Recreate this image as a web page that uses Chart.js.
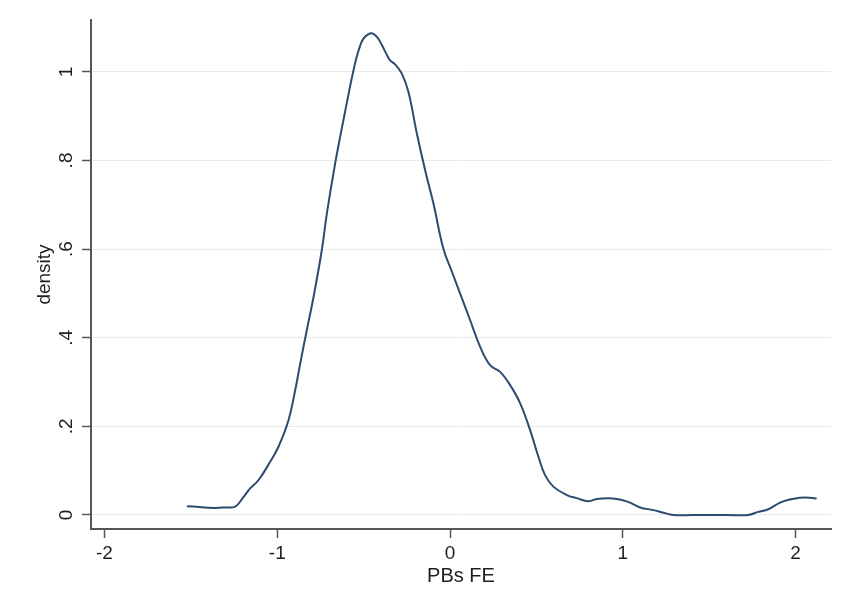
<!DOCTYPE html>
<html>
<head>
<meta charset="utf-8">
<script src="https://cdn.jsdelivr.net/npm/chart.js@4"></script>
<style>
  html, body { margin: 0; padding: 0; background: #ffffff; }
  #wrap { position: relative; width: 843px; height: 607px; }
</style>
</head>
<body>
<div id="wrap"><canvas id="c" width="843" height="607"></canvas></div>
<script>
// Kernel density of PBs FE
const xValues = [-1.523, -1.450, -1.369, -1.300, -1.243, -1.200, -1.157, -1.108, -1.041, -0.993,
  -0.935, -0.896, -0.867, -0.829, -0.790, -0.742, -0.713, -0.665, -0.617, -0.578,
  -0.559, -0.540, -0.520, -0.501, -0.472, -0.452, -0.423, -0.394, -0.365, -0.347,
  -0.318, -0.279, -0.241, -0.192, -0.144, -0.096, -0.038, 0.010, 0.058, 0.116,
  0.174, 0.232, 0.290, 0.348, 0.406, 0.463, 0.511, 0.550, 0.598, 0.676,
  0.733, 0.801, 0.849, 0.926, 0.994, 1.042, 1.100, 1.177, 1.235, 1.292,
  1.400, 1.600, 1.726, 1.784, 1.842, 1.910, 1.967, 2.025, 2.083, 2.122];
const densityValues = [0.020, 0.018, 0.016, 0.017, 0.019, 0.038, 0.060, 0.079, 0.120, 0.154,
  0.214, 0.282, 0.342, 0.417, 0.492, 0.598, 0.680, 0.793, 0.891, 0.968,
  1.003, 1.034, 1.059, 1.075, 1.085, 1.087, 1.079, 1.060, 1.038, 1.026,
  1.017, 0.996, 0.955, 0.861, 0.778, 0.703, 0.600, 0.550, 0.500, 0.440,
  0.380, 0.338, 0.323, 0.293, 0.252, 0.192, 0.132, 0.090, 0.064, 0.045,
  0.038, 0.031, 0.036, 0.038, 0.034, 0.028, 0.017, 0.011, 0.005, 0,
  0, 0, 0, 0.007, 0.013, 0.028, 0.035, 0.039, 0.039, 0.037];
const xTickValues = [-2, -1, 0, 1, 2];
const yTickValues = [0, 0.2, 0.4, 0.6, 0.8, 1];
const yTickLabels = ['0', '.2', '.4', '.6', '.8', '1'];
const xTitle = 'PBs FE';
const yTitle = 'density';

const points = xValues.map((x, i) => ({ x: x, y: densityValues[i] }));
const FONT = "'Liberation Sans', Arial, sans-serif";
const AXIS_COLOR = '#555555';
const TEXT_COLOR = '#1e1e1e';

new Chart(document.getElementById('c'), {
  type: 'scatter',
  data: {
    datasets: [{
      data: points,
      showLine: true,
      borderColor: '#2d4b70',
      borderWidth: 2,
      pointRadius: 0,
      fill: false,
      tension: 0.4
    }]
  },
  options: {
    responsive: false,
    animation: false,
    layout: { padding: { left: 0, right: 12, top: 20, bottom: 0 } },
    plugins: { legend: { display: false }, tooltip: { enabled: false } },
    scales: {
      x: {
        type: 'linear',
        min: -2.078,
        max: 2.205,
        afterFit: (s) => { s.height = 78; },
        afterBuildTicks: (s) => { s.ticks = xTickValues.map(v => ({ value: v })); },
        border: { color: AXIS_COLOR, width: 2 },
        grid: { drawOnChartArea: false, tickLength: 9, tickColor: AXIS_COLOR, tickWidth: 1.5 },
        ticks: {
          color: TEXT_COLOR,
          font: { family: FONT, size: 19 },
          padding: 4,
          maxRotation: 0,
          callback: (v) => String(v)
        },
        title: {
          display: true,
          text: xTitle,
          color: TEXT_COLOR,
          font: { family: FONT, size: 20 },
          padding: { top: 0, bottom: 19 }
        }
      },
      y: {
        type: 'linear',
        min: -0.0316,
        max: 1.117,
        afterFit: (s) => { s.width = 91; },
        afterBuildTicks: (s) => { s.ticks = yTickValues.map(v => ({ value: v })); },
        border: { color: AXIS_COLOR, width: 2 },
        grid: { color: '#e6eced', lineWidth: 1, tickLength: 9, tickColor: AXIS_COLOR, tickWidth: 1.5 },
        ticks: {
          color: TEXT_COLOR,
          font: { family: FONT, size: 19 },
          padding: 7,
          minRotation: 90,
          maxRotation: 90,
          crossAlign: 'center',
          callback: (v) => {
            const i = yTickValues.indexOf(v);
            return i >= 0 ? yTickLabels[i] : '';
          }
        },
        title: {
          display: true,
          text: yTitle,
          color: TEXT_COLOR,
          font: { family: FONT, size: 19 },
          padding: { top: 33, bottom: 0 }
        }
      }
    }
  }
});
</script>
</body>
</html>
